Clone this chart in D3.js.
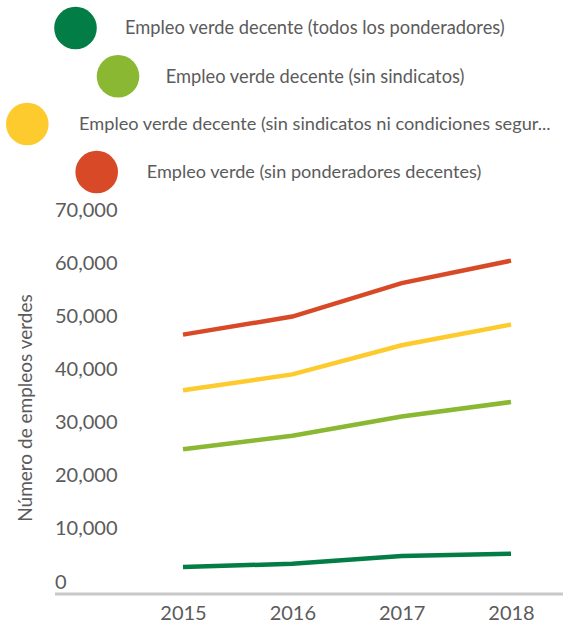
<!DOCTYPE html>
<html><head><meta charset="utf-8">
<script src="https://cdn.jsdelivr.net/npm/d3@7"></script>
<style>html,body{margin:0;padding:0;background:#fff;}svg{display:block;}</style>
</head><body>
<svg id="chart" width="563" height="626"></svg>
<script>
const years = ["2015", "2016", "2017", "2018"];
const seriesNames = [
  "Empleo verde decente (todos los ponderadores)",
  "Empleo verde decente (sin sindicatos)",
  "Empleo verde decente (sin sindicatos ni condiciones segur...",
  "Empleo verde (sin ponderadores decentes)"
];
const seriesColors = ["#037d46", "#8ab833", "#fdcb2e", "#d84a27"];
const decenteTodos = [5100, 5700, 7150, 7600];
const sinSindicatos = [27300, 29850, 33450, 36200];
const sinSindicatosNiCond = [38400, 41400, 46900, 50800];
const sinPonderadores = [48900, 52300, 58600, 62850];
const yTicks = [0, 10000, 20000, 30000, 40000, 50000, 60000, 70000];
const yTitle = "Número de empleos verdes";

const values = [decenteTodos, sinSindicatos, sinSindicatosNiCond, sinPonderadores];
const FONT = "Lato, 'Open Sans', sans-serif";
const TXT = "#5b5b5b";
const svg = d3.select("#chart");

const x = d3.scalePoint().domain(years).range([183, 511]);
const y = d3.scaleLinear().domain([0, 70000]).range([594, 222.7]);

// legend
const legendPos = [
  {cx: 75.5, cy: 28, tx: 125, w: 380},
  {cx: 118, cy: 76.3, tx: 165.7, w: 299},
  {cx: 27.3, cy: 124, tx: 79, w: 472},
  {cx: 96.7, cy: 172, tx: 146.7, w: 335}
];
const lg = svg.append("g");
seriesNames.forEach((name, i) => {
  const p = legendPos[i];
  lg.append("circle").attr("cx", p.cx).attr("cy", p.cy).attr("r", 21.3).attr("fill", seriesColors[i]);
  const t = lg.append("text").attr("x", p.tx).attr("y", p.cy).attr("dy", "0.35em")
    .attr("font-family", FONT).attr("font-size", 19).attr("fill", TXT).text(name);
  const natural = t.node().getComputedTextLength();
  t.attr("font-size", (19 * p.w / natural).toFixed(2));
});

// y axis labels
const yAxis = d3.axisLeft(y).tickValues(yTicks).tickFormat(d3.format(",")).tickSize(0);
const ya = svg.append("g").call(yAxis);
ya.select(".domain").remove();
ya.selectAll("text").attr("x", 55).attr("dy", -6).attr("text-anchor", "start")
  .attr("font-family", FONT).attr("font-size", 20).attr("fill", TXT);

// y title
svg.append("text").attr("transform", "translate(32,408) rotate(-90)")
  .attr("text-anchor", "middle").attr("font-family", FONT).attr("font-size", 19)
  .attr("fill", TXT).text(yTitle);

// x axis
svg.append("line").attr("x1", 55).attr("x2", 563).attr("y1", y(0)).attr("y2", y(0))
  .attr("stroke", "#c8c8c8").attr("stroke-width", 3);
const xAxis = d3.axisBottom(x).tickSize(0);
const xa = svg.append("g").attr("transform", `translate(0,${y(0)})`).call(xAxis);
xa.select(".domain").remove();
xa.selectAll("text").attr("y", 26).attr("dy", 0).attr("font-family", FONT).attr("font-size", 20).attr("fill", TXT);

// lines
const line = d3.line().x((d, i) => x(years[i])).y(d => y(d));
values.forEach((vals, i) => {
  svg.append("path").datum(vals).attr("d", line).attr("fill", "none")
    .attr("stroke", seriesColors[i]).attr("stroke-width", 4.5);
});
</script>
</body></html>
